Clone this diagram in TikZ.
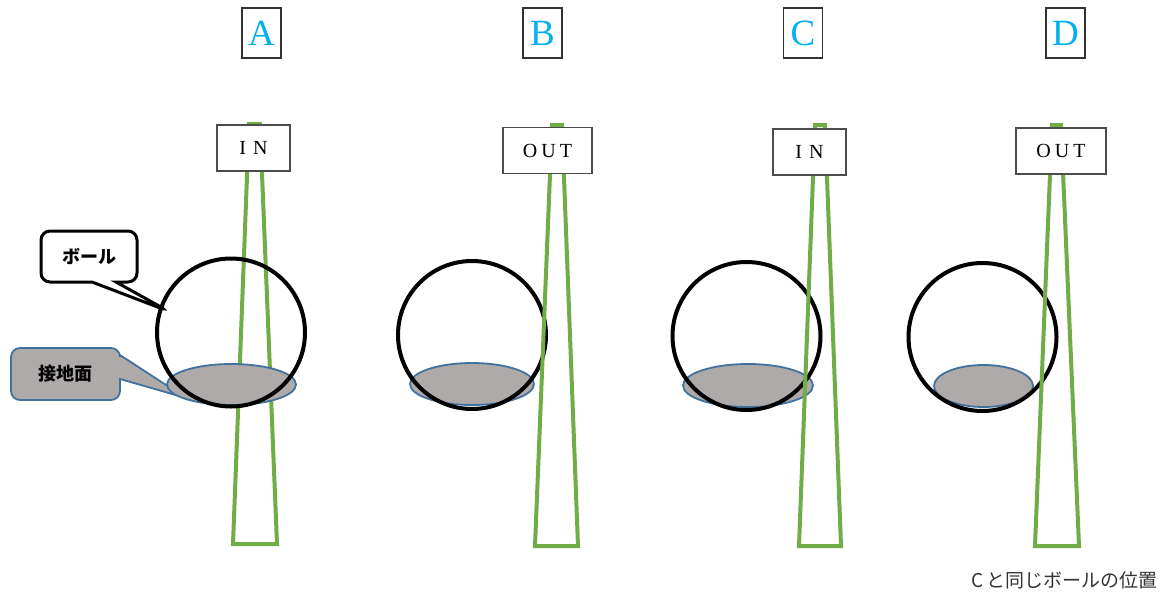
\documentclass[tikz,border=0pt]{standalone}
\usepackage{fontspec}
\setmainfont{Liberation Serif}
\newfontfamily\jp{Noto Sans CJK JP}
\usetikzlibrary{shapes.geometric,shapes.callouts}
\definecolor{racketgreen}{HTML}{70AD47}
\definecolor{labelcyan}{HTML}{00B0F0}
\definecolor{patchgray}{HTML}{AEAAAA}
\definecolor{patchblue}{HTML}{41719C}
\tikzset{
  lettertag/.style={draw=black!80, line width=1.4pt, fill=white, minimum width=39pt, minimum height=50pt, inner sep=0pt, text=labelcyan, font=\fontsize{37}{37}\selectfont},
  sidetag/.style={draw=black!70, line width=1.2pt, fill=white, minimum height=46pt, inner sep=0pt, font=\fontsize{20}{20}\selectfont},
  ball/.style={circle, draw=black, line width=4pt, minimum size=148pt, inner sep=0pt},
  patch/.style={ellipse, draw=patchblue, line width=1.8pt, fill=patchgray, inner sep=0pt},
  racket/.style={draw=racketgreen, line width=4pt},
  balloon/.style={rectangle callout, rounded corners=9pt, callout pointer width=24pt, inner sep=0pt, font=\jp\bfseries\fontsize{18}{18}\selectfont}
}
\begin{document}
\begin{tikzpicture}[x=1pt, y=-1pt]
  \useasboundingbox (0,0) rectangle (1165,592);

  \node (tagA) at (261.5, 33) [lettertag] {A};
  \node (tagB) at (542.5, 33) [lettertag] {B};
  \node (tagC) at (803, 33) [lettertag] {C};
  \node (tagD) at (1065.5, 33) [lettertag] {D};

  \node (callball) at (89, 256.5) [balloon, draw=black, line width=3pt, fill=white, minimum width=96pt, minimum height=51pt, callout absolute pointer={(168,311)}] {ボール};
  \node (callpatch) at (65.5, 374) [balloon, draw=patchblue, line width=1.8pt, fill=patchgray, minimum width=109pt, minimum height=52pt, callout absolute pointer={(186,398)}] {接地面};

  \draw[racket] (249,124) -- (233,544) -- (277,544) -- (260,124) -- cycle;
  \node (patchA) at (231.5, 384.5) [patch, minimum width=129pt, minimum height=41pt] {};
  \node (ballA) at (231, 332.5) [ball] {};
  \node (sideA) at (253.5, 148) [sidetag, minimum width=73pt] {I\hspace{7pt}N};

  \node (patchB) at (472, 384) [patch, minimum width=124pt, minimum height=42pt] {};
  \node (ballB) at (472, 335) [ball] {};
  \draw[racket] (552,125) -- (535,546) -- (578,546) -- (562,125) -- cycle;
  \node (sideB) at (547.5, 150.5) [sidetag, minimum width=89pt] {O\hspace{4pt}U\hspace{4pt}T};

  \node (patchC) at (748, 385.5) [patch, minimum width=130pt, minimum height=43pt] {};
  \node (ballC) at (746.5, 336) [ball] {};
  \draw[racket] (815,125) -- (799,546) -- (841,546) -- (825,125) -- cycle;
  \node (sideC) at (809.5, 152) [sidetag, minimum width=73pt] {I\hspace{7pt}N};

  \node (patchD) at (983.5, 386) [patch, minimum width=99pt, minimum height=42pt] {};
  \node (ballD) at (982.5, 337) [ball] {};
  \draw[racket] (1052,125) -- (1035,546) -- (1079,546) -- (1061,125) -- cycle;
  \node (sideD) at (1061, 151) [sidetag, minimum width=90pt] {O\hspace{4pt}U\hspace{4pt}T};

  \node (note) at (1158, 580) [anchor=east, inner sep=0pt, text=black!80, font=\jp\fontsize{19}{19}\selectfont] {C\,と同じボールの位置};
\end{tikzpicture}
\end{document}
